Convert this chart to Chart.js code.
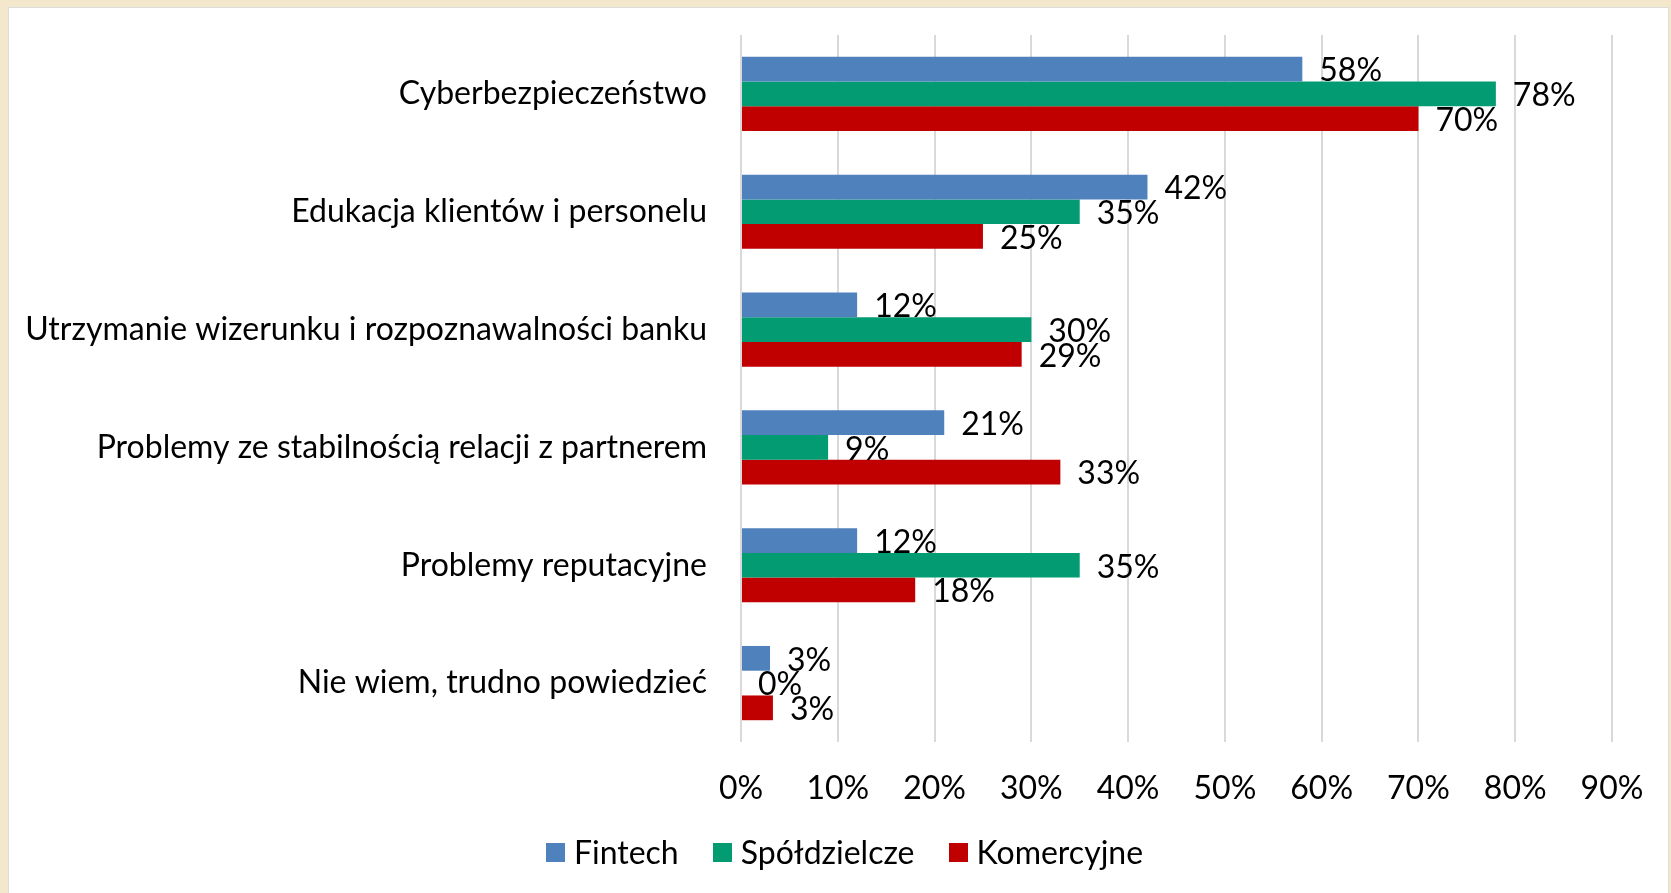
<!DOCTYPE html>
<html lang="pl">
<head>
<meta charset="UTF-8">
<title>Ryzyka współpracy</title>
<script src="https://cdn.jsdelivr.net/npm/chart.js"></script>
<style>
    html, body {
        margin: 0;
        padding: 0;
        width: 1671px;
        height: 893px;
        overflow: hidden;
        background: #f4e8cc;
        font-family: Lato, "Open Sans", sans-serif;
    }
    .panel {
        position: absolute;
        left: 8px;
        top: 7px;
        width: 1661px;
        height: 900px;
        background: #ffffff;
        border: 1px solid #dcdcdc;
        box-sizing: border-box;
    }
    .chart-box {
        position: absolute;
        left: 0;
        top: 0;
        width: 1671px;
        height: 893px;
    }
    .legend {
        position: absolute;
        left: 9px;
        top: 832px;
        width: 1671px;
        height: 40px;
        display: flex;
        justify-content: center;
        align-items: center;
        gap: 34px;
        font-size: 32px;
        line-height: 40px;
        color: #000;
    }
    .legend-item {
        display: flex;
        align-items: center;
    }
    .legend-box {
        width: 19px;
        height: 19px;
        margin-right: 9px;
    }
</style>
</head>
<body>
<div class="panel"></div>
<div class="chart-box">
    <canvas id="chart"></canvas>
</div>
<div class="legend" id="legend"></div>

<script>
// categories (top to bottom)
const categories = [
    'Cyberbezpieczeństwo',
    'Edukacja klientów i personelu',
    'Utrzymanie wizerunku i rozpoznawalności banku',
    'Problemy ze stabilnością relacji z partnerem',
    'Problemy reputacyjne',
    'Nie wiem, trudno powiedzieć'
];

// series values in %
const fintech = [58, 42, 12, 21, 12, 3];
const spoldzielcze = [78, 35, 30, 9, 35, 0];
const komercyjne = [70, 25, 29, 33, 18, 3.3];

const seriesNames = ['Fintech', 'Spółdzielcze', 'Komercyjne'];
const seriesColors = ['#4f81bd', '#039b72', '#c00000'];

// x axis ticks
const xMin = 0;
const xMax = 90;
const xStep = 10;

const FONT = 'Lato, "Open Sans", sans-serif';
const FONT_SIZE = 32;
const AXIS_X = 741;  // pixel where 0% sits
const PAD_LEFT = 9;

Chart.defaults.font.family = FONT;
Chart.defaults.color = '#000';

// value labels to the right of each bar
const barLabels = {
    id: 'barLabels',
    afterDatasetsDraw(chart) {
        const ctx = chart.ctx;
        ctx.save();
        ctx.font = FONT_SIZE + 'px ' + FONT;
        ctx.fillStyle = '#000';
        ctx.textAlign = 'left';
        ctx.textBaseline = 'middle';
        chart.data.datasets.forEach((ds, i) => {
            const meta = chart.getDatasetMeta(i);
            meta.data.forEach((bar, j) => {
                const txt = Math.round(ds.data[j]) + '%';
                ctx.fillText(txt, bar.x + 17, bar.y + 2);
            });
        });
        ctx.restore();
    }
};

const datasets = [fintech, spoldzielcze, komercyjne].map((vals, i) => ({
    label: seriesNames[i],
    data: vals,
    backgroundColor: seriesColors[i],
    borderWidth: 0,
    categoryPercentage: 0.63,
    barPercentage: 1.0
}));

new Chart(document.getElementById('chart'), {
    type: 'bar',
    data: {
        labels: categories,
        datasets: datasets
    },
    options: {
        indexAxis: 'y',
        responsive: true,
        maintainAspectRatio: false,
        animation: false,
        layout: {
            padding: { left: PAD_LEFT, right: 59, top: 35, bottom: 69 }
        },
        plugins: {
            legend: { display: false },
            tooltip: { enabled: false }
        },
        scales: {
            x: {
                min: xMin,
                max: xMax,
                grid: {
                    color: '#d9d9d9',
                    lineWidth: 2,
                    drawTicks: false
                },
                border: { display: false },
                ticks: {
                    stepSize: xStep,
                    padding: 27,
                    font: { size: FONT_SIZE },
                    color: '#000',
                    callback: v => v + '%'
                },
                afterFit(scale) {
                    scale.height = 82;
                }
            },
            y: {
                grid: { display: false },
                border: { display: false },
                ticks: {
                    padding: 26,
                    font: { size: FONT_SIZE },
                    color: '#000'
                },
                afterFit(scale) {
                    scale.width = AXIS_X - PAD_LEFT;
                    // let the layout padding alone decide the top edge
                    scale.paddingTop = 0;
                    scale.paddingBottom = 0;
                }
            }
        }
    },
    plugins: [barLabels]
});

// legend built from the series arrays
const legendEl = document.getElementById('legend');
seriesNames.forEach((name, i) => {
    const item = document.createElement('div');
    item.className = 'legend-item';
    const box = document.createElement('span');
    box.className = 'legend-box';
    box.style.background = seriesColors[i];
    const txt = document.createElement('span');
    txt.textContent = name;
    item.appendChild(box);
    item.appendChild(txt);
    legendEl.appendChild(item);
});
</script>
</body>
</html>
